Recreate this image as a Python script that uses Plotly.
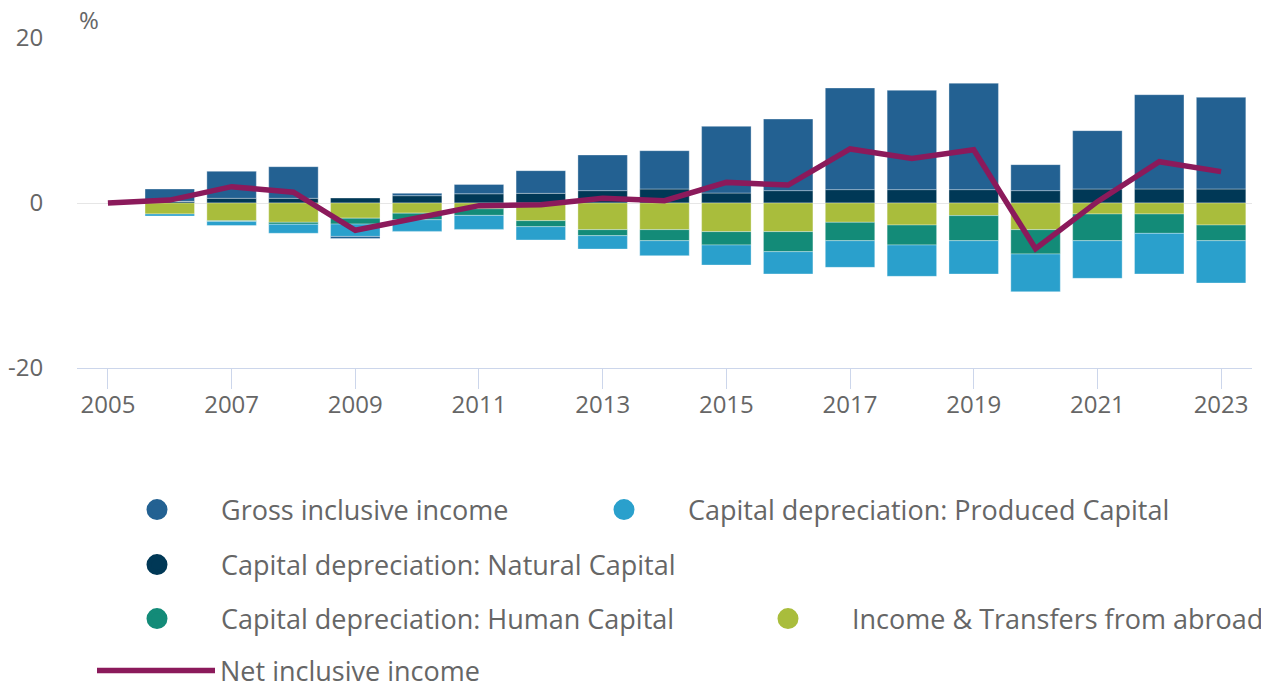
import plotly.graph_objects as go

years = list(range(2005, 2024))

gross = [None, 1.5, 3.27, 3.83, -0.26, 0.28, 1.13, 2.75, 4.32, 4.64, 8.08, 8.68, 12.32, 12.04, 12.9, 3.15, 7.07, 11.43, 11.11]
produced = [None, -0.25, -0.49, -1.09, -1.49, -1.41, -1.7, -1.61, -1.62, -1.81, -2.43, -2.7, -3.23, -3.8, -4.04, -4.57, -4.56, -4.92, -5.13]
natural = [None, 0.2, 0.57, 0.57, 0.6, 0.89, 1.12, 1.17, 1.5, 1.7, 1.21, 1.5, 1.62, 1.62, 1.62, 1.5, 1.7, 1.7, 1.7]
human = [None, 0.0, -0.1, -0.24, -0.72, -0.8, -0.8, -0.73, -0.73, -1.34, -1.62, -2.43, -2.23, -2.42, -3.04, -2.95, -3.24, -2.35, -1.9]
income = [None, -1.33, -2.14, -2.34, -1.84, -1.23, -0.7, -2.14, -3.23, -3.23, -3.47, -3.47, -2.34, -2.67, -1.53, -3.23, -1.33, -1.33, -2.67]
net = [0.0, 0.35, 1.98, 1.3, -3.3, -1.74, -0.32, -0.2, 0.57, 0.28, 2.5, 2.18, 6.55, 5.41, 6.45, -5.55, 0.16, 5.0, 3.8]

x_ticks = [2005, 2007, 2009, 2011, 2013, 2015, 2017, 2019, 2021, 2023]
y_ticks = [-20, 0, 20]
y_ticktext = ["-20", "0", "20"]

names = {
    "gross": "Gross inclusive income",
    "produced": "Capital depreciation: Produced Capital",
    "natural": "Capital depreciation: Natural Capital",
    "human": "Capital depreciation: Human Capital",
    "income": "Income & Transfers from abroad",
    "net": "Net inclusive income",
}
colors = {
    "gross": "#236192",
    "produced": "#2aa0cc",
    "natural": "#003856",
    "human": "#138b78",
    "income": "#a9bd3c",
    "net": "#8b1a5b",
}

FONT = "Open Sans"
GREY = "#666666"

fig = go.Figure()

# stacking order (relative): natural, income, human, produced, gross
for key, vals in [("natural", natural), ("income", income), ("human", human),
                  ("produced", produced), ("gross", gross)]:
    fig.add_trace(go.Bar(
        x=years, y=vals, name=names[key], showlegend=False,
        marker=dict(color=colors[key], line=dict(color="rgba(255,255,255,0.55)", width=0.6)),
        hoverinfo="x+y+name",
    ))

fig.add_trace(go.Scatter(
    x=years, y=net, name=names["net"], mode="lines",
    line=dict(color=colors["net"], width=5.5),
    legend="legend6",
))

# legend proxies (circle markers)
legend_map = [("gross", "legend"), ("produced", "legend2"), ("natural", "legend3"),
              ("human", "legend4"), ("income", "legend5")]
for key, lg in legend_map:
    fig.add_trace(go.Scatter(
        x=[None], y=[None], mode="markers", name=names[key],
        marker=dict(symbol="circle", size=16, color=colors[key],
                    line=dict(color=colors[key], width=5)),
        legend=lg,
    ))

# page has an 8px body margin, so the figure is sized/positioned to compensate
OFF = 8
W = 1269 - OFF
H = 686 - OFF


def leg(xpx, ypx):
    return dict(
        x=(xpx - OFF) / W, y=1 - (ypx - OFF) / H, xref="container", yref="container",
        xanchor="left", yanchor="middle", orientation="h",
        itemwidth=118, bgcolor="rgba(0,0,0,0)", borderwidth=0,
        font=dict(family=FONT, size=27, color=GREY),
    )


fig.update_layout(
    width=W, height=H,
    margin=dict(l=77 - OFF, r=17, t=38 - OFF, b=H - (368 - OFF), autoexpand=False),
    paper_bgcolor="white", plot_bgcolor="white",
    barmode="relative", bargap=0.2,
    font=dict(family=FONT, size=24, color=GREY),
    legend=leg(93, 510),
    legend2=leg(560, 510),
    legend3=leg(93, 565),
    legend4=leg(93, 619),
    legend5=leg(724, 619),
    legend6=leg(92, 671),
    xaxis=dict(
        range=[2004.5, 2023.5], tickvals=x_ticks, ticks="outside", ticklen=20,
        tickcolor="#ccd6eb", tickwidth=1, showline=True, linecolor="#ccd6eb",
        linewidth=1, showgrid=False, zeroline=False, ticklabelstandoff=-5,
        tickfont=dict(family=FONT, size=24, color=GREY),
    ),
    yaxis=dict(
        range=[-20, 20], tickvals=y_ticks, ticktext=y_ticktext, ticks="outside", ticklen=28,
        tickcolor="rgba(0,0,0,0)", showgrid=True, gridcolor="#e6e6e6", gridwidth=1,
        zeroline=True, zerolinecolor="#e6e6e6", zerolinewidth=1, showline=False,
        tickfont=dict(family=FONT, size=24, color=GREY),
    ),
    annotations=[dict(
        text="%", xref="paper", yref="paper", x=0, y=1, xanchor="left", yanchor="bottom",
        showarrow=False, font=dict(family=FONT, size=24, color=GREY),
    )],
)

fig.write_html("out.html")
